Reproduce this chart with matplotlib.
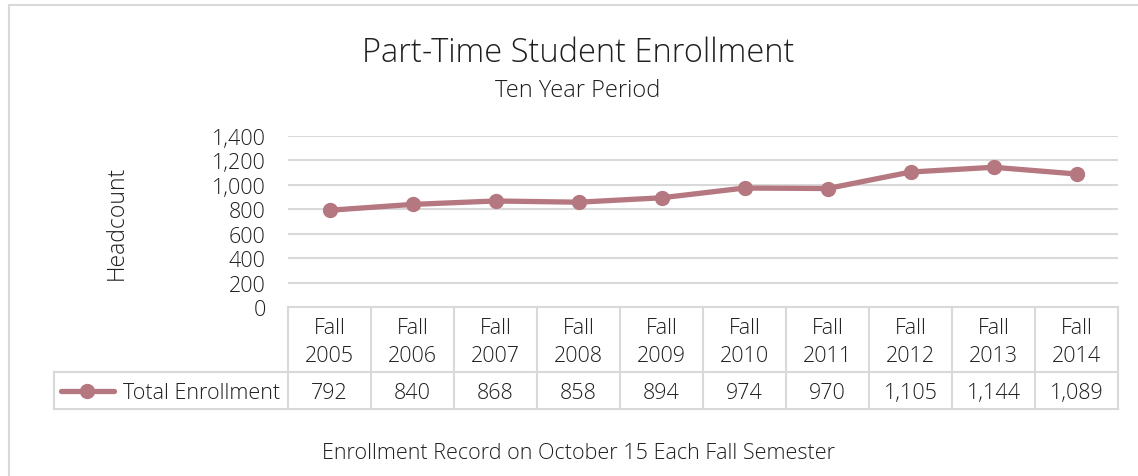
import matplotlib.pyplot as plt
from matplotlib.lines import Line2D

categories = ["Fall\n2005", "Fall\n2006", "Fall\n2007", "Fall\n2008", "Fall\n2009",
              "Fall\n2010", "Fall\n2011", "Fall\n2012", "Fall\n2013", "Fall\n2014"]
enrollment = [792, 840, 868, 858, 894, 974, 970, 1105, 1144, 1089]
yticks = [0, 200, 400, 600, 800, 1000, 1200, 1400]
series_name = "Total Enrollment"

plt.rcParams['font.family'] = ['Open Sans', 'DejaVu Sans']
plt.rcParams['font.weight'] = 'light'
plt.rcParams['axes.labelweight'] = 'light'
TXT = '#1F1F1F'
GRID = '#D9D9D9'
LINE = '#B57780'

W, H = 1138, 477
fig = plt.figure(figsize=(W / 100, H / 100), dpi=100)

# Chart border
fig.add_artist(Line2D([9 / W, 9 / W], [0, 1 - 6 / H], color=GRID, lw=1.5))
fig.add_artist(Line2D([9 / W, 1], [1 - 6 / H, 1 - 6 / H], color=GRID, lw=1.5))

left, right, top, bottom = 288, 1118, 137, 308
ax = fig.add_axes([left / W, 1 - bottom / H, (right - left) / W, (bottom - top) / H])

x = list(range(len(categories)))
ax.plot(x, enrollment, color=LINE, lw=3.8, marker='o', markersize=10,
        solid_capstyle='round', zorder=3)
ax.set_xlim(-0.5, len(categories) - 0.5)
ax.set_ylim(0, 1400)
ax.set_yticks(yticks)
ax.set_yticklabels([f"{v:,}" for v in yticks], color=TXT, fontsize=15.5)
ax.tick_params(axis='y', length=0, pad=16)
ax.set_xticks([])
for s in ax.spines.values():
    s.set_visible(False)
for v in yticks[1:]:
    ax.axhline(v, color=GRID, lw=1.5, zorder=1)
ax.set_ylabel("Headcount", fontsize=16.5, color=TXT, labelpad=60, fontweight='light')

# Data table
tr = ax.get_xaxis_transform()
px = (right - left) / len(categories)  # pixels per category
y0 = 0.0
y1 = -(373 - bottom) / (bottom - top)
y2 = -(410 - bottom) / (bottom - top)
xleg = -0.5 - (left - 54) / px
xend = len(categories) - 0.5
kw = dict(color=GRID, lw=1.5, transform=tr, clip_on=False)
ax.plot([-0.5, xend], [y0, y0], **kw)
ax.plot([xleg, xend], [y1, y1], **kw)
ax.plot([xleg, xend], [y2, y2], **kw)
ax.plot([xleg, xleg], [y1, y2], **kw)
for k in range(len(categories) + 1):
    ax.plot([k - 0.5, k - 0.5], [y0, y2], **kw)

for i, (c, v) in enumerate(zip(categories, enrollment)):
    ax.text(i, (y0 + y1) / 2 - 0.01, c, transform=tr, ha='center', va='center',
            fontsize=15.5, color=TXT, linespacing=1.45)
    ax.text(i, (y1 + y2) / 2 - 0.01, f"{v:,}", transform=tr, ha='center', va='center',
            fontsize=15.5, color=TXT)

# legend key in table
ym = (y1 + y2) / 2
ax.plot([xleg + 0.08, xleg + 0.72], [ym, ym], color=LINE, lw=3.8,
        solid_capstyle='round', transform=tr, clip_on=False)
ax.plot([xleg + 0.4], [ym], marker='o', markersize=10, color=LINE,
        transform=tr, clip_on=False)
ax.text(-0.5 - 8 / px, ym - 0.01, series_name, transform=tr, ha='right', va='center',
        fontsize=15.5, color=TXT)

# Titles
fig.text(578 / W, 1 - 53 / H, "Part-Time Student Enrollment", ha='center', va='center',
         fontsize=23.5, color=TXT)
fig.text(578 / W, 1 - 91 / H, "Ten Year Period", ha='center', va='center',
         fontsize=17, color=TXT)
fig.text(578 / W, 1 - 454 / H, "Enrollment Record on October 15 Each Fall Semester",
         ha='center', va='center', fontsize=15.5, color=TXT)

fig.savefig("out.png", dpi=100)
